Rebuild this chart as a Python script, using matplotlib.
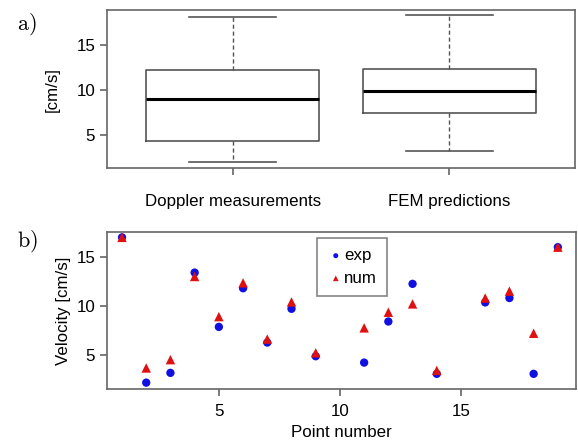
import numpy as np
import matplotlib.pyplot as plt

plt.rcParams['font.family'] = ['Liberation Sans', 'DejaVu Sans']
plt.rcParams['mathtext.fontset'] = 'cm'

# box statistics (panel a)
box_labels = ['Doppler measurements', 'FEM predictions']
whislo = [2.1, 3.3]
q1 = [4.35, 7.5]
med = [9.05, 9.85]
q3 = [12.15, 12.3]
whishi = [18.0, 18.25]

# point comparison (panel b)
point = [1, 2, 3, 4, 5, 6, 7, 8, 9, 11, 12, 13, 14, 16, 17, 18, 19]
exp_v = [17.0, 2.15, 3.15, 13.4, 7.85, 11.8, 6.25, 9.7, 4.85, 4.2, 8.4, 12.25, 3.05, 10.35, 10.8, 3.05, 16.0]
num_v = [17.0, 3.65, 4.5, 13.0, 8.9, 12.35, 6.6, 10.4, 5.2, 7.75, 9.35, 10.2, 3.4, 10.8, 11.5, 7.2, 16.0]

gray = '#666666'
fs = 12.2
fig = plt.figure(figsize=(5.78, 4.43), dpi=100)
ax1 = fig.add_axes([107/578, 1-168/443, 468/578, 158/443])
ax2 = fig.add_axes([107/578, 1-389/443, 469/578, 157/443])

stats = []
for i in range(2):
    stats.append(dict(label=box_labels[i], whislo=whislo[i], q1=q1[i], med=med[i],
                      q3=q3[i], whishi=whishi[i], fliers=[]))
ax1.bxp(stats, positions=[1, 2], widths=0.8, showfliers=False,
        boxprops=dict(color='#555555', linewidth=1.2),
        medianprops=dict(color='black', linewidth=2.2),
        whiskerprops=dict(color='#555555', linewidth=1.0, linestyle=(0, (3, 2))),
        capprops=dict(color='#555555', linewidth=1.2))
ax1.set_xlim(0.42, 2.58)
ax1.set_ylim(1.4, 18.8)
ax1.set_yticks([5, 10, 15])
ax1.set_ylabel('[cm/s]', fontsize=fs, labelpad=12)

ax2.scatter(point, exp_v, s=36, c='#1010e0', marker='o', label='exp', zorder=3, edgecolors='none')
ax2.scatter(point, num_v, s=46, c='#e01010', marker='^', label='num', zorder=3, edgecolors='none')
ax2.set_xlim(0.38, 19.75)
ax2.set_ylim(1.5, 17.55)
ax2.set_xticks([5, 10, 15])
ax2.set_yticks([5, 10, 15])
ax2.set_xlabel('Point number', fontsize=fs, labelpad=4)
ax2.set_ylabel('Velocity [cm/s]', fontsize=fs, labelpad=4)
leg = ax2.legend(loc='upper left', bbox_to_anchor=(0.448, 0.962), borderaxespad=0,
                 fontsize=fs, frameon=True, fancybox=False, handletextpad=0.0,
                 handlelength=1.0, borderpad=0.6, labelspacing=0.45, markerscale=0.6)
leg.get_frame().set_edgecolor(gray)
leg.get_frame().set_linewidth(1.2)

for ax in (ax1, ax2):
    for sp in ax.spines.values():
        sp.set_color(gray)
        sp.set_linewidth(1.2)
    ax.tick_params(colors=gray, labelcolor='black', labelsize=fs, length=5, width=1.2)
ax1.tick_params(axis='x', pad=14)
ax2.tick_params(axis='x', pad=6)

fig.text(17/578, 1-24/443, r'$\mathrm{a)}$', fontsize=16, va='center', ha='left')
fig.text(17/578, 1-241/443, r'$\mathrm{b)}$', fontsize=16, va='center', ha='left')

fig.savefig('out.png', dpi=100)
